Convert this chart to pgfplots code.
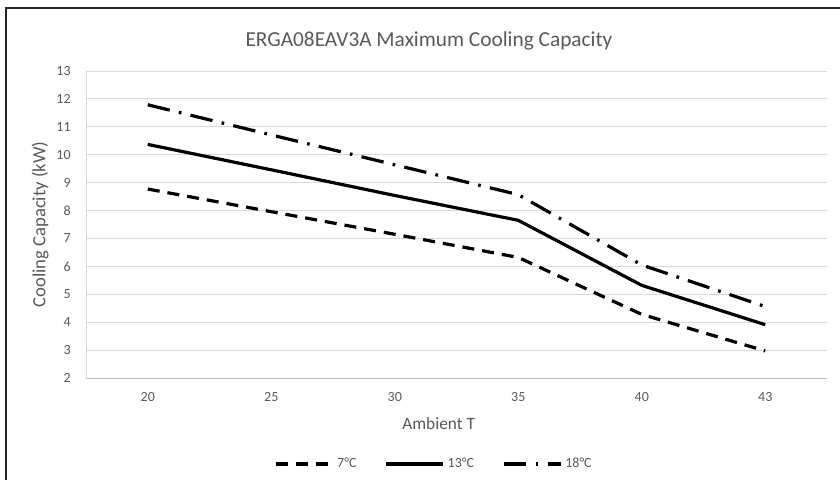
\documentclass[border=0pt]{standalone}
\usepackage{fontspec}
\setmainfont{Carlito}
\usepackage{pgfplots}
\pgfplotsset{compat=1.18}

\definecolor{txt}{HTML}{595959}
\definecolor{gridc}{HTML}{D9D9D9}
\definecolor{axisline}{HTML}{BFBFBF}

\begin{document}
\begin{tikzpicture}
\useasboundingbox (0,0) rectangle (630pt,360pt);
% outer frame (only top and left edges show in the crop)
\draw[black!85, line width=1pt] (4.5pt,0) -- (4.5pt,354pt) -- (630pt,354pt);
\node[text=txt, font=\fontsize{16}{18}\selectfont] at (321.75pt,329pt) {ERGA08EAV3A Maximum Cooling Capacity};

\begin{axis}[
    at={(64.5pt,76.5pt)}, anchor=south west,
    scale only axis,
    width=555.75pt, height=230.25pt,
    /pgf/number format/assume math mode=true,
    xmin=-0.5, xmax=5.5,
    ymin=2, ymax=13,
    xtick={0,1,2,3,4,5},
    xticklabels={20,25,30,35,40,43},
    ytick={2,3,4,5,6,7,8,9,10,11,12,13},
    xmajorgrids=false,
    ymajorgrids=true,
    grid style={gridc, line width=0.75pt},
    axis x line*=bottom,
    axis y line*=left,
    x axis line style={axisline, line width=0.75pt, -},
    y axis line style={gridc, line width=0.75pt, -},
    major tick length=0pt,
    tick label style={text=txt, font=\fontsize{10.5}{12}\selectfont},
    xticklabel style={yshift=-7pt},
    yticklabel style={xshift=-8pt},
    xlabel={Ambient T},
    ylabel={Cooling Capacity (kW)},
    xlabel style={text=txt, font=\fontsize{13}{15}\selectfont,
        at={(axis description cs:0.476,-0.147)}, anchor=center},
    ylabel style={text=txt, font=\fontsize{14}{16}\selectfont,
        at={(axis description cs:-0.062,0.5)}, anchor=center},
    legend columns=3,
    legend style={draw=none, fill=none, text=txt, font=\fontsize{10.5}{12}\selectfont,
        at={(axis description cs:0.469,-0.28)}, anchor=center,
        /tikz/every odd column/.append style={column sep=1pt},
        /tikz/every even column/.append style={column sep=20pt},
        nodes={inner xsep=1pt}},
    legend image code/.code={\draw[#1] (0pt,0pt) -- (43pt,0pt);},
]

% 7 C
\addplot[black, line width=2.4pt, dash pattern=on 9pt off 6pt] coordinates {
    (0, 8.77)
    (1, 7.96)
    (2, 7.15)
    (3, 6.32)
    (4, 4.28)
    (5, 2.97)
};
\addlegendentry{7°C}

% 13 C
\addplot[black, line width=2.4pt] coordinates {
    (0, 10.37)
    (1, 9.46)
    (2, 8.54)
    (3, 7.65)
    (4, 5.32)
    (5, 3.91)
};
\addlegendentry{13°C}

% 18 C
\addplot[black, line width=2.4pt, dash pattern=on 17pt off 7pt on 2pt off 7pt] coordinates {
    (0, 11.79)
    (1, 10.71)
    (2, 9.64)
    (3, 8.57)
    (4, 6.05)
    (5, 4.56)
};
\addlegendentry{18°C}

\end{axis}
\end{tikzpicture}
\end{document}
